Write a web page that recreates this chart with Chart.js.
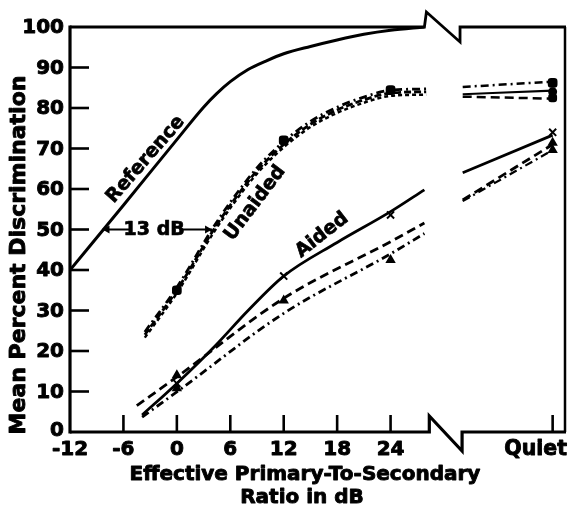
<!DOCTYPE html>
<html>
<head>
<meta charset="utf-8">
<script src="https://cdn.jsdelivr.net/npm/chart.js@4/dist/chart.umd.min.js"></script>
<style>
html,body{margin:0;padding:0;background:#fff;}
#c{display:block;}
</style>
</head>
<body>
<canvas id="c" width="573" height="511"></canvas>
<script>
// ---------- DATA ----------
const QUIET = 42.2;                       // x position used for the "Quiet" condition
const xTickValues = [-12, -6, 0, 6, 12, 18, 24];
const xTickLabels = ['-12', '-6', '0', '6', '12', '18', '24'];
const quietLabel = 'Quiet';
const yTickValues = [0, 10, 20, 30, 40, 50, 60, 70, 80, 90, 100];

// Reference curve
const referenceX = [-12, -6, 0, 3, 4.5, 6, 8, 10, 12, 15, 18, 21, 24, 27.8];
const referenceY = [40, 56, 72.2, 80.2, 83.6, 86.5, 89.5, 91.6, 93.4, 95.2, 96.8, 98.2, 99.2, 100];

// Unaided (three nearly coincident lines)
const unaidedX  = [-3.6, 0, 4, 6, 9, 12, 15, 18, 21, 24, 28];
const unaidedA  = [24.7, 35.7, 50.2, 56.7, 65.2, 71.7, 76.7, 80.2, 82.7, 84.4, 84.7];
const unaidedB  = [24, 35, 49.5, 56, 64.5, 71, 76, 79.5, 82, 83.7, 84];
const unaidedC  = [23.3, 34.3, 48.8, 55.3, 63.8, 70.3, 75.3, 78.8, 81.3, 83, 83.3];
const quietX    = [32.1, QUIET];
const unaidedQuietA = [85.2, 86.5];
const unaidedQuietB = [83.4, 84.3];
const unaidedQuietC = [82.8, 82.3];
const unaidedMarkX  = [0, 12, 24, QUIET];
const unaidedMarkA  = [35, 72, 84.4, 86.2];
const unaidedMarkB  = [null, null, null, 84];
const unaidedMarkC  = [null, null, null, 82.5];

// Aided (solid, dashed, dash-dot)
const aidedSolidX = [-3.9, 0, 4.4, 8, 12, 18, 24, 27.8];
const aidedSolidY = [4.2, 12, 21.5, 30, 38.5, 46.8, 54.4, 59.8];
const aidedDashX  = [-4.5, 0, 12, 24, 27.8];
const aidedDashY  = [6.5, 13.6, 33, 47, 51.6];
const aidedDotX   = [-3.9, 0, 12, 24, 27.8];
const aidedDotY   = [3.7, 9.9, 29.3, 44, 49];
const aidedQuietSolid = [64, 73.3];
const aidedQuietDash  = [57.3, 71];
const aidedQuietDot   = [57, 69.6];
const aidedMarkX      = [0, 12, 24, QUIET];
const aidedMarkX_Y    = [12, 38.5, 53.6, 74];
const aidedMarkTri    = [14, 32.5, 42.5, 71.4];
const aidedMarkTri2   = [10.8, null, null, 69.6];

// ---------- helpers ----------
const pts = (xs, ys) => xs.map((x, i) => ({x: x, y: ys[i]}));
const FONT = '"DejaVu Sans", "Liberation Sans", sans-serif';
const DASH = [9, 5];
const DASHDOT = [8, 4, 2, 4];

function line(data, opts) {
  return Object.assign({
    data: data, borderColor: '#000', borderWidth: 2.5, pointRadius: 0,
    fill: false, cubicInterpolationMode: 'monotone', spanGaps: false
  }, opts || {});
}
function markers(data, style, r, opts) {
  return Object.assign({
    data: data, showLine: false, pointStyle: style, pointRadius: r,
    pointBackgroundColor: '#000', pointBorderColor: '#000', pointBorderWidth: 2
  }, opts || {});
}

const datasets = [
  line(pts(referenceX, referenceY), {borderWidth: 3}),
  line(pts(unaidedX, unaidedA), {borderDash: DASHDOT, borderWidth: 2.8}),
  line(pts(unaidedX, unaidedB), {borderDash: [7, 3], borderWidth: 2.8}),
  line(pts(unaidedX, unaidedC), {borderDash: [4, 3], borderWidth: 2.5}),
  line(pts(quietX, unaidedQuietA), {borderDash: DASHDOT, borderWidth: 2.5}),
  line(pts(quietX, unaidedQuietB), {borderWidth: 2.2}),
  line(pts(quietX, unaidedQuietC), {borderDash: DASH, borderWidth: 2.5}),
  markers(pts(unaidedMarkX, unaidedMarkA), 'rectRounded', 4.5),
  markers(pts(unaidedMarkX, unaidedMarkB), 'circle', 3.5),
  markers(pts(unaidedMarkX, unaidedMarkC), 'rectRounded', 4),
  line(pts(aidedSolidX, aidedSolidY), {borderWidth: 2.8}),
  line(pts(aidedDashX, aidedDashY), {borderDash: DASH, borderWidth: 2.8}),
  line(pts(aidedDotX, aidedDotY), {borderDash: DASHDOT, borderWidth: 2.8}),
  line(pts(quietX, aidedQuietSolid), {borderWidth: 2.8}),
  line(pts(quietX, aidedQuietDash), {borderDash: DASH, borderWidth: 2.8}),
  line(pts(quietX, aidedQuietDot), {borderDash: DASHDOT, borderWidth: 2.2}),
  markers(pts(aidedMarkX, aidedMarkX_Y), 'crossRot', 5, {pointBorderWidth: 2}),
  markers(pts(aidedMarkX, aidedMarkTri), 'triangle', 4),
  markers(pts(aidedMarkX, aidedMarkTri2), 'triangle', 4)
];

// ---------- frame, ticks, labels ----------
const BREAK_TOP = {x0: 27.8, x1: 31.8, yHi: 103.7, yLo: 96.3};
const BREAK_BOT = {x0: 28.35, x1: 32.03, yHi: 3.95, yLo: -4.7};

function heavyText(ctx, txt, x, y) {
  ctx.strokeText(txt, x, y);
  ctx.fillText(txt, x, y);
}

const framePlugin = {
  id: 'frame',
  afterDraw(chart) {
    const ctx = chart.ctx, xs = chart.scales.x, ys = chart.scales.y;
    const X = v => xs.getPixelForValue(v), Y = v => ys.getPixelForValue(v);
    const L = X(-12), R = X(xs.max), T = Y(100), B = Y(0);
    ctx.save();
    ctx.strokeStyle = '#000'; ctx.fillStyle = '#000';
    ctx.lineJoin = 'miter'; ctx.lineCap = 'butt';
    // left axis
    ctx.lineWidth = 3.2;
    ctx.beginPath(); ctx.moveTo(L, T - 1.5); ctx.lineTo(L, B + 1.5); ctx.stroke();
    // bottom axis with break
    ctx.beginPath();
    ctx.moveTo(L, B); ctx.lineTo(X(BREAK_BOT.x0), B);
    ctx.lineTo(X(BREAK_BOT.x0), Y(BREAK_BOT.yHi));
    ctx.lineTo(X(BREAK_BOT.x1), Y(BREAK_BOT.yLo));
    ctx.lineTo(X(BREAK_BOT.x1), B);
    ctx.lineTo(R, B);
    ctx.stroke();
    // top border with break
    ctx.lineWidth = 2.8;
    ctx.beginPath();
    ctx.moveTo(L, T); ctx.lineTo(X(BREAK_TOP.x0), T);
    ctx.lineTo(X(BREAK_TOP.x0) + 2, Y(BREAK_TOP.yHi));
    ctx.lineTo(X(BREAK_TOP.x1), Y(BREAK_TOP.yLo));
    ctx.lineTo(X(BREAK_TOP.x1), T);
    ctx.lineTo(R, T);
    ctx.stroke();
    // right border
    ctx.lineWidth = 2.5;
    ctx.beginPath(); ctx.moveTo(R - 1, T); ctx.lineTo(R - 1, B); ctx.stroke();

    // y ticks (inside)
    ctx.lineWidth = 2.6;
    yTickValues.forEach(v => {
      if (v === 0 || v === 100) return;
      ctx.beginPath(); ctx.moveTo(L, Y(v)); ctx.lineTo(L + 19, Y(v)); ctx.stroke();
    });
    // x ticks (inside)
    xTickValues.concat([QUIET]).forEach(v => {
      if (v === -12) return;
      ctx.beginPath(); ctx.moveTo(X(v), B); ctx.lineTo(X(v), B - 17); ctx.stroke();
    });

    // tick labels
    ctx.lineWidth = 0.9; ctx.lineJoin = 'round';
    ctx.font = 'bold 20px ' + FONT;
    ctx.textAlign = 'right'; ctx.textBaseline = 'middle';
    yTickValues.forEach(v => {
      heavyText(ctx, String(v), L - 6, Y(v) + (v === 0 ? -1 : 1));
    });
    ctx.textAlign = 'center'; ctx.textBaseline = 'middle';
    xTickValues.forEach((v, i) => heavyText(ctx, xTickLabels[i], X(v), B + 18));
    ctx.textAlign = 'right';
    ctx.font = 'bold 20.5px ' + FONT;
    heavyText(ctx, quietLabel, R + 1, B + 18);

    // axis titles
    ctx.font = 'bold 20px ' + FONT;
    ctx.textAlign = 'center';
    heavyText(ctx, 'Effective Primary-To-Secondary', 305, 475);
    heavyText(ctx, 'Ratio in dB', 302, 498);
    ctx.save();
    ctx.font = 'bold 22px ' + FONT;
    ctx.translate(19, 255); ctx.rotate(-Math.PI / 2);
    heavyText(ctx, 'Mean Percent Discrimination', 0, 0);
    ctx.restore();

    // in-plot labels
    ctx.font = 'bold 19px ' + FONT;
    ctx.lineWidth = 0.7;
    const rot = (txt, xv, yv, deg) => {
      ctx.save(); ctx.translate(X(xv), Y(yv)); ctx.rotate(deg * Math.PI / 180);
      heavyText(ctx, txt, 0, 0); ctx.restore();
    };
    rot('Reference', -3.5, 67.3, -49);
    rot('Unaided', 8.8, 56.5, -53);
    rot('Aided', 16.3, 48.6, -38);

    // 13 dB arrow
    const ay = Y(50);
    ctx.textAlign = 'center';
    heavyText(ctx, '13 dB', X(-2.55), ay + 1);
    ctx.lineWidth = 2;
    const a0 = X(-8.35), a1 = X(3.95);
    ctx.beginPath(); ctx.moveTo(a0, ay); ctx.lineTo(X(-5.3), ay); ctx.stroke();
    ctx.beginPath(); ctx.moveTo(X(0.3), ay); ctx.lineTo(a1, ay); ctx.stroke();
    ctx.beginPath(); ctx.moveTo(a0, ay); ctx.lineTo(a0 + 7, ay - 4); ctx.lineTo(a0 + 7, ay + 4); ctx.closePath(); ctx.fill();
    ctx.beginPath(); ctx.moveTo(a1, ay); ctx.lineTo(a1 - 7, ay - 4); ctx.lineTo(a1 - 7, ay + 4); ctx.closePath(); ctx.fill();
    ctx.restore();
  }
};

const bgPlugin = {
  id: 'bg',
  beforeDraw(chart) {
    const ctx = chart.ctx;
    ctx.save(); ctx.fillStyle = '#fff'; ctx.fillRect(0, 0, chart.width, chart.height); ctx.restore();
  }
};

new Chart(document.getElementById('c'), {
  type: 'line',
  data: {datasets: datasets},
  options: {
    responsive: false,
    animation: false,
    parsing: true,
    layout: {padding: {left: 70, right: 3, top: 27, bottom: 79}},
    plugins: {legend: {display: false}, tooltip: {enabled: false}},
    scales: {
      x: {type: 'linear', min: -12, max: 43.7, display: false},
      y: {type: 'linear', min: 0, max: 100, display: false}
    },
    elements: {line: {borderCapStyle: 'butt'}}
  },
  plugins: [bgPlugin, framePlugin]
});
</script>
</body>
</html>
